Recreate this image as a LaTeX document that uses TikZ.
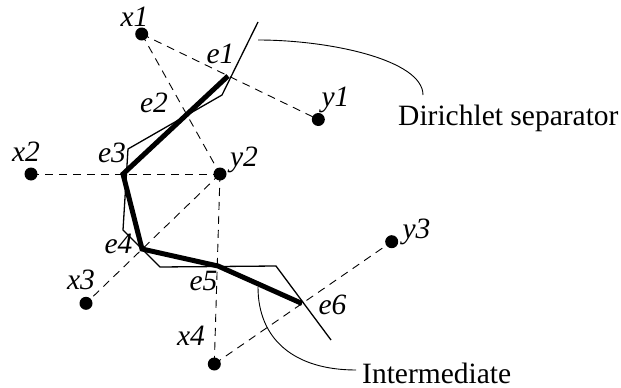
\documentclass[tikz,border=0pt]{standalone}
\usepackage{fontspec}
\setmainfont{Liberation Serif}
\begin{document}
\begin{tikzpicture}[x=1pt,y=-1pt,
  dot/.style={circle,fill=black,inner sep=0pt,minimum size=13pt},
  lab/.style={font=\fontsize{29.5}{30}\selectfont\itshape,inner sep=0pt,anchor=base},
  txt/.style={font=\fontsize{29.5}{30}\selectfont,inner sep=0pt,anchor=base west},
  sepline/.style={line width=5pt,line join=miter},
  thinsep/.style={line width=1.3pt,line join=miter},
  dsh/.style={line width=0.9pt,dash pattern=on 8pt off 6pt},
  lead/.style={line width=0.9pt}]
\useasboundingbox (0,0) rectangle (621,388);
% sites
\node[dot] (x1) at (141.7,34) {};
\node[dot] (y1) at (318.3,119.5) {};
\node[dot] (x2) at (31,174) {};
\node[dot] (y2) at (220,174) {};
\node[dot] (x3) at (86,303.3) {};
\node[dot] (x4) at (214.3,364) {};
\node[dot] (y3) at (391.7,241.7) {};
% dashed connections
\draw[dsh] (x1.center) -- (y1.center);
\draw[dsh] (x1.center) -- (y2.center);
\draw[dsh] (x2.center) -- (y2.center);
\draw[dsh] (y2.center) -- (x3.center);
\draw[dsh] (y2.center) -- (x4.center);
\draw[dsh] (x4.center) -- (y3.center);
% separator points
\coordinate (e1) at (228,76);
\coordinate (e3) at (123,174);
\coordinate (e4) at (142,249);
\coordinate (e5) at (218,266);
\coordinate (e6) at (302,303.5);
% thin separator
\coordinate (t0) at (258,22);
\coordinate (t1) at (222,95);
\coordinate (t2) at (128,149);
\coordinate (t3) at (123,230);
\coordinate (t4) at (160,267);
\coordinate (t5) at (276,266);
\coordinate (t6) at (331,340);
\draw[thinsep] (t0) -- (t1) -- (t2) -- (t3) -- (t4) -- (t5) -- (t6);
% thick intermediate
\draw[sepline] (e1) -- (e3) -- (e4) -- (e5) -- (e6);
% labels
\node[lab] (lx1) at (134.5,27) {x1};
\node[lab] (ly1) at (335.5,106) {y1};
\node[lab] (lx2) at (26,161.5) {x2};
\node[lab] (ly2) at (244,166) {y2};
\node[lab] (lx3) at (81,289.5) {x3};
\node[lab] (lx4) at (191,345) {x4};
\node[lab] (ly3) at (416.5,238) {y3};
\node[lab] (le1) at (220.5,63) {e1};
\node[lab] (le2) at (154,112.5) {e2};
\node[lab] (le3) at (112,162) {e3};
\node[lab] (le4) at (118.5,253.3) {e4};
\node[lab] (le5) at (203.5,290) {e5};
\node[lab] (le6) at (332.5,314) {e6};
% callouts
\node[txt] (dir) at (398,125) {Dirichlet separator};
\node[txt] (inter) at (362,383) {Intermediate};
\coordinate (d0) at (258,40);
\coordinate (d1) at (423,95);
\draw[lead] (d0) .. controls (330,40) and (423,60) .. (d1);
\coordinate (i0) at (258,287);
\coordinate (i1) at (356,370);
\draw[lead] (i0) .. controls (258,340) and (295,370) .. (i1);
\end{tikzpicture}
\end{document}
